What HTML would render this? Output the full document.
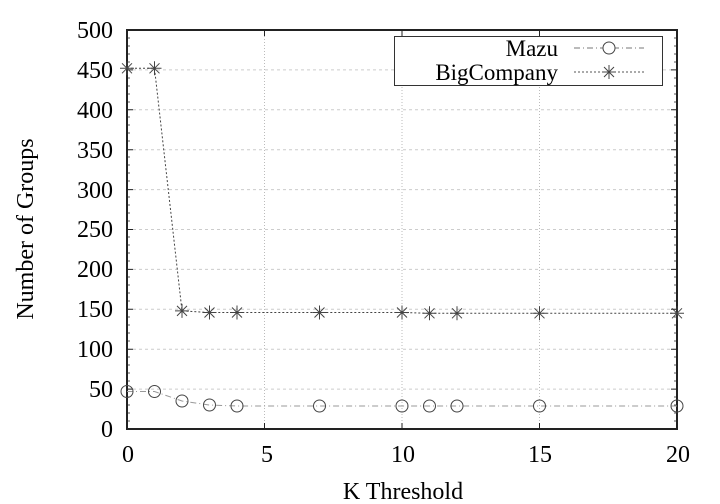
<!DOCTYPE html>
<html><head><style>body{margin:0;background:#fff}svg{display:block}text{font-family:"Liberation Serif",serif;fill:#000}</style></head><body>
<svg width="720" height="504" xmlns="http://www.w3.org/2000/svg">
<g stroke="#ccc" stroke-width="1" stroke-dasharray="3,3">
<line x1="127" x2="677" y1="389.1" y2="389.1"/><line x1="127" x2="677" y1="349.2" y2="349.2"/><line x1="127" x2="677" y1="309.3" y2="309.3"/><line x1="127" x2="677" y1="269.4" y2="269.4"/><line x1="127" x2="677" y1="229.5" y2="229.5"/><line x1="127" x2="677" y1="189.6" y2="189.6"/><line x1="127" x2="677" y1="149.7" y2="149.7"/><line x1="127" x2="677" y1="109.8" y2="109.8"/><line x1="127" x2="394" y1="69.9" y2="69.9"/><line x1="663" x2="677" y1="69.9" y2="69.9"/>
</g>
<g stroke="#bbb" stroke-width="1" stroke-dasharray="1,2">
<line x1="264.5" x2="264.5" y1="30" y2="429"/><line x1="402" x2="402" y1="30" y2="429"/><line x1="539.5" x2="539.5" y1="30" y2="429"/>
</g>
<g stroke="#222" stroke-width="1">
<path d="M127,389.1h6M127,349.2h6M127,309.3h6M127,269.4h6M127,229.5h6M127,189.6h6M127,149.7h6M127,109.8h6M127,69.9h6M677,389.1h-6M677,349.2h-6M677,309.3h-6M677,269.4h-6M677,229.5h-6M677,189.6h-6M677,149.7h-6M677,109.8h-6M677,69.9h-6M264.5,429v-6M402,429v-6M539.5,429v-6M264.5,30v6M402,30v6M539.5,30v6"/>
<path stroke-width="0.8" d="M127,421h3M127,413h3M127,405h3M127,397h3M127,381h3M127,373h3M127,365h3M127,357h3M127,341h3M127,333h3M127,325h3M127,317h3M127,301h3M127,293h3M127,285h3M127,277h3M127,261h3M127,253h3M127,245h3M127,237h3M127,221h3M127,213h3M127,205h3M127,197h3M127,181h3M127,173h3M127,165h3M127,157h3M127,141h3M127,133h3M127,125h3M127,117h3M127,102h3M127,94h3M127,86h3M127,78h3M127,62h3M127,54h3M127,46h3M127,38h3M677,421h-3M677,413h-3M677,405h-3M677,397h-3M677,381h-3M677,373h-3M677,365h-3M677,357h-3M677,341h-3M677,333h-3M677,325h-3M677,317h-3M677,301h-3M677,293h-3M677,285h-3M677,277h-3M677,261h-3M677,253h-3M677,245h-3M677,237h-3M677,221h-3M677,213h-3M677,205h-3M677,197h-3M677,181h-3M677,173h-3M677,165h-3M677,157h-3M677,141h-3M677,133h-3M677,125h-3M677,117h-3M677,102h-3M677,94h-3M677,86h-3M677,78h-3M677,62h-3M677,54h-3M677,46h-3M677,38h-3"/>
</g>
<rect x="127" y="30" width="550" height="399" fill="none" stroke="#222" stroke-width="2"/>
<polyline fill="none" stroke="#999" stroke-width="1" stroke-dasharray="6,3,1,3" points="127,391.5 154.5,391.5 182,401 209.5,405 237,406 319.5,406 402,406 429.5,406 457,406 539.5,406 677,406"/>
<polyline fill="none" stroke="#444" stroke-width="1" stroke-dasharray="2,2" points="127,68.3 154.5,68.3 182,310.9 209.5,312.5 237,312.5 319.5,312.5 402,312.5 429.5,313.3 457,313.3 539.5,313.3 677,313.3"/>
<g fill="none" stroke="#444" stroke-width="1">
<circle cx="127" cy="391.5" r="6"/><circle cx="154.5" cy="391.5" r="6"/><circle cx="182" cy="401" r="6"/><circle cx="209.5" cy="405" r="6"/><circle cx="237" cy="406" r="6"/><circle cx="319.5" cy="406" r="6"/><circle cx="402" cy="406" r="6"/><circle cx="429.5" cy="406" r="6"/><circle cx="457" cy="406" r="6"/><circle cx="539.5" cy="406" r="6"/><circle cx="677" cy="406" r="6"/>
</g>
<defs><path id="st" d="M-7,0h14M0,-7v14M-5,-5l10,10M-5,5l10,-10"/></defs>
<g stroke="#444" stroke-width="1">
<use href="#st" x="127" y="68.3"/><use href="#st" x="154.5" y="68.3"/><use href="#st" x="182" y="310.9"/><use href="#st" x="209.5" y="312.5"/><use href="#st" x="237" y="312.5"/><use href="#st" x="319.5" y="312.5"/><use href="#st" x="402" y="312.5"/><use href="#st" x="429.5" y="313.3"/><use href="#st" x="457" y="313.3"/><use href="#st" x="539.5" y="313.3"/><use href="#st" x="677" y="313.3"/>
</g>
<rect x="394.5" y="36.5" width="268" height="49" fill="#fff" stroke="#333" stroke-width="1"/>
<g font-size="23" text-anchor="end">
<text x="558" y="56">Mazu</text><text x="558" y="80">BigCompany</text>
</g>
<line x1="574" x2="644" y1="48" y2="48" stroke="#777" stroke-dasharray="6,3,1,3"/>
<circle cx="609" cy="48" r="6" fill="#fff" stroke="#444"/>
<line x1="574" x2="644" y1="72" y2="72" stroke="#555" stroke-dasharray="2,2"/>
<use href="#st" x="609" y="72" stroke="#444"/>
<g font-size="24" text-anchor="end">
<text x="113" y="437">0</text><text x="113" y="397">50</text><text x="113" y="357">100</text><text x="113" y="317">150</text><text x="113" y="277">200</text><text x="113" y="237">250</text><text x="113" y="198">300</text><text x="113" y="158">350</text><text x="113" y="118">400</text><text x="113" y="78">450</text><text x="113" y="38">500</text>
</g>
<g font-size="24" text-anchor="middle">
<text x="128" y="462">0</text><text x="267" y="462">5</text><text x="403" y="462">10</text><text x="540" y="462">15</text><text x="678" y="462">20</text>
<text x="403" y="499">K Threshold</text>
<text transform="translate(33,229) rotate(-90)">Number of Groups</text>
</g>
</svg>
</body></html>
